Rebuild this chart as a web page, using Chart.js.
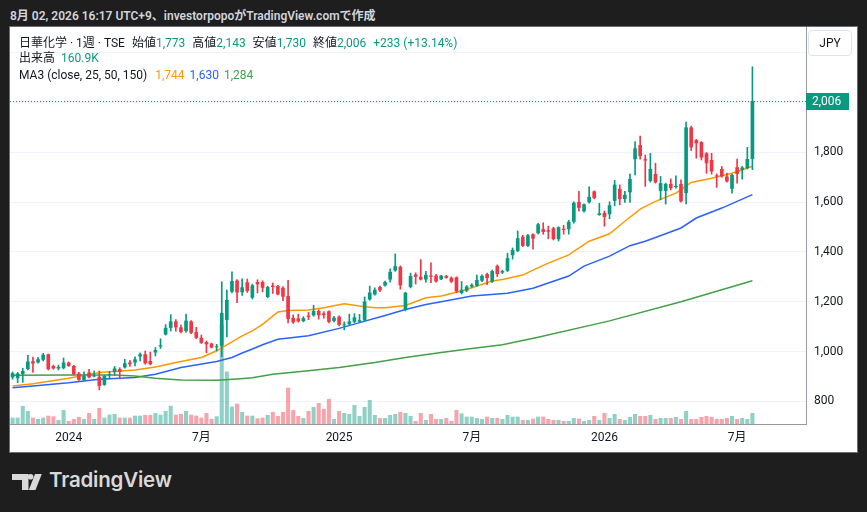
<!DOCTYPE html>
<html lang="ja">
<head>
<meta charset="utf-8">
<title>日華化学 · 1週 · TSE</title>
<script src="https://cdn.jsdelivr.net/npm/chart.js@4.4.1/dist/chart.umd.min.js"></script>
<style>
  html, body { margin: 0; padding: 0; }
  body {
    width: 867px; height: 512px; overflow: hidden; position: relative;
    background: #1e1e1e;
    font-family: Roboto, "Noto Sans CJK JP", sans-serif;
  }
  #title {
    position: absolute; left: 10px; top: 6px;
    color: #d1d4dc; font-size: 12px; font-weight: 600; white-space: nowrap;
  }
  #frame {
    position: absolute; left: 9px; top: 26px; width: 847px; height: 425px;
    border: 1px solid #6a6d78; background: #fff;
  }
  #chart { position: absolute; left: 0; top: 0; }
  .legend {
    position: absolute; left: 9px; font-size: 12px; line-height: 16px;
    color: #131722; white-space: nowrap;
  }
  .legend .k { margin-left: 4px; }
  .up { color: #089981; }
  #jpy {
    position: absolute; left: 798px; top: 3px; width: 44px; height: 26px;
    border: 1px solid #e0e3eb; border-radius: 4px; box-sizing: border-box;
    font-size: 12px; color: #131722; text-align: center; line-height: 24px;
  }
  #brand {
    position: absolute; left: 12px; top: 467px; height: 30px;
    color: #d9d9d9; white-space: nowrap;
  }
  #brand svg { position: absolute; left: 0; top: 7px; }
  #brand span {
    position: absolute; left: 37px; top: 0; font-family: Inter, Roboto, sans-serif;
    font-size: 20.5px; font-weight: 600; letter-spacing: -0.2px;
  }
</style>
</head>
<body>
<div id="title">8月 02, 2026 16:17 UTC+9、investorpopoがTradingView.comで作成</div>
<div id="frame">
  <canvas id="chart" width="847" height="425"></canvas>
  <div class="legend" style="top:8px">
    <span>日華化学 · 1週 · TSE</span>
    <span class="k">始値</span><span class="up" id="vOpen"></span>
    <span class="k">高値</span><span class="up" id="vHigh"></span>
    <span class="k">安値</span><span class="up" id="vLow"></span>
    <span class="k">終値</span><span class="up" id="vClose"></span>
    <span class="up" id="vChange" style="margin-left:4px"></span>
  </div>
  <div class="legend" style="top:23px">
    <span>出来高</span><span class="up" id="vVol" style="margin-left:6px"></span>
  </div>
  <div class="legend" style="top:40px">
    <span>MA3 (close, 25, 50, 150)</span>
    <span id="vMa25" style="color:#ff9800;margin-left:5px"></span>
    <span id="vMa50" style="color:#2962ff;margin-left:2px"></span>
    <span id="vMa150" style="color:#43a047;margin-left:2px"></span>
  </div>
  <div id="jpy">JPY</div>
</div>
<div id="brand">
  <svg width="30" height="16" viewBox="0 0 30 16">
    <rect x="0" y="0" width="16.5" height="6" fill="#d9d9d9"/>
    <rect x="10" y="6" width="6.5" height="10" fill="#d9d9d9"/>
    <circle cx="18.6" cy="2.8" r="2.8" fill="#d9d9d9"/>
    <polygon points="23,0 29.8,0 23.5,16 16.8,16" fill="#d9d9d9"/>
  </svg>
  <span>TradingView</span>
</div>

<script>
// weekly bars, first bar is the week of 2023-10-16; 10 empty weeks are kept on the right
const firstWeek = Date.UTC(2023, 9, 16);
const weekCount = 156;
const weeks = [];
for (let i = 0; i < weekCount; i++) {
  weeks.push(new Date(firstWeek + i * 7 * 864e5).toISOString().slice(0, 10));
}

const tickWeeks = ['2024-01-01', '2024-07-01', '2025-01-06', '2025-07-07', '2026-01-05', '2026-07-06'];
const tickTexts = ['2024', '7月', '2025', '7月', '2026', '7月'];
const priceTicks = [800, 1000, 1200, 1400, 1600, 1800, 2000, 2200];
const priceLabels = [800, 1000, 1200, 1400, 1600, 1800];

const open = [
  896, 893, 909, 930, 961, 956, 967, 989, 942, 932, 933,
  956, 942, 912, 886, 916, 900, 899, 866, 905, 918,
  929, 936, 956, 956, 980, 989, 962, 996, 1020, 1068,
  1095, 1121, 1097, 1082, 1121, 1078, 1055, 1038, 1032, 1017,
  1023, 1127, 1240, 1285,
  1238, 1278, 1216, 1279, 1279, 1219, 1265, 1263, 1256, 1223,
  1135, 1133, 1122, 1144, 1145, 1163, 1153, 1162, 1123, 1140,
  1105, 1110, 1119, 1120, 1125, 1209, 1229, 1259, 1265, 1289,
  1325, 1340, 1169, 1259, 1309, 1300, 1289, 1305, 1305, 1290,
  1303, 1296, 1298,
  1235, 1244, 1261, 1264, 1284, 1311, 1280, 1344, 1317, 1324,
  1387, 1404, 1461, 1424, 1471, 1475, 1491, 1487, 1495, 1451,
  1493, 1491, 1521, 1601, 1563, 1599, 1643, 1548, 1557, 1551,
  1605,
  1653, 1612, 1639, 1772, 1829, 1772, 1685, 1713, 1645, 1645,
  1673, 1660, 1673, 1636, 1900, 1849, 1841, 1796, 1769, 1707,
  1733, 1703, 1653, 1740, 1729, 1736, 1773
];
const high = [
  918, 916, 933, 985, 978, 977, 993, 990, 946, 946, 974,
  958, 945, 916, 918, 929, 922, 922, 905, 920, 940,
  935, 969, 965, 979, 995, 1002, 998, 1016, 1051, 1108,
  1148, 1128, 1106, 1150, 1124, 1097, 1066, 1042, 1034, 1029,
  1280, 1247, 1320, 1289,
  1292, 1291, 1271, 1288, 1284, 1262, 1275, 1266, 1261, 1286,
  1147, 1150, 1140, 1157, 1186, 1168, 1160, 1163, 1141, 1143,
  1119, 1150, 1152, 1149, 1219, 1263, 1256, 1263, 1283, 1332,
  1392, 1344, 1238, 1315, 1316, 1369, 1322, 1356, 1310, 1306,
  1306, 1300, 1300,
  1281, 1265, 1272, 1307, 1308, 1315, 1327, 1348, 1327, 1395,
  1416, 1484, 1467, 1471, 1473, 1515, 1517, 1504, 1499, 1501,
  1507, 1527, 1601, 1643, 1593, 1661, 1645, 1595, 1564, 1601,
  1687,
  1669, 1643, 1712, 1843, 1865, 1789, 1796, 1756, 1703, 1676,
  1693, 1705, 1689, 1921, 1905, 1852, 1843, 1799, 1796, 1713,
  1743, 1716, 1712, 1773, 1743, 1820, 2143
];
const low = [
  889, 875, 876, 926, 916, 953, 962, 926, 929, 926, 930,
  940, 906, 884, 883, 894, 898, 846, 864, 890, 905,
  890, 933, 940, 942, 962, 949, 946, 982, 1012, 1066,
  1082, 1082, 1075, 1078, 1072, 1051, 1032, 995, 1014, 1002,
  979, 1059, 1235, 1196,
  1225, 1237, 1211, 1235, 1240, 1216, 1233, 1227, 1204, 1115,
  1113, 1118, 1119, 1128, 1142, 1130, 1134, 1115, 1119, 1103,
  1087, 1107, 1116, 1117, 1122, 1206, 1226, 1240, 1262, 1278,
  1322, 1250, 1163, 1255, 1271, 1287, 1278, 1276, 1278, 1288,
  1294, 1277, 1236,
  1231, 1240, 1257, 1261, 1280, 1268, 1277, 1301, 1313, 1321,
  1371, 1401, 1421, 1421, 1411, 1472, 1471, 1453, 1448, 1444,
  1471, 1471, 1515, 1564, 1560, 1596, 1613, 1547, 1503, 1533,
  1585,
  1589, 1599, 1599, 1709, 1772, 1663, 1680, 1676, 1609, 1592,
  1649, 1656, 1600, 1593, 1807, 1776, 1769, 1716, 1712, 1659,
  1700, 1680, 1636, 1676, 1692, 1733, 1730
];
const close = [
  913, 912, 922, 960, 952, 969, 987, 929, 932, 938, 956,
  942, 909, 886, 902, 896, 904, 862, 902, 909, 932,
  918, 953, 949, 969, 989, 953, 949, 1006, 1025, 1095,
  1121, 1097, 1078, 1124, 1075, 1055, 1035, 1029, 1016, 1021,
  1155, 1207, 1283, 1237,
  1258, 1243, 1266, 1270, 1256, 1259, 1259, 1229, 1220, 1130,
  1117, 1121, 1134, 1139, 1163, 1146, 1146, 1119, 1136, 1107,
  1109, 1121, 1137, 1126, 1201, 1237, 1248, 1245, 1279, 1320,
  1343, 1266, 1236, 1303, 1300, 1289, 1308, 1300, 1281, 1305,
  1296, 1280, 1241,
  1248, 1261, 1268, 1287, 1304, 1295, 1323, 1311, 1323, 1375,
  1408, 1455, 1424, 1467, 1453, 1511, 1480, 1481, 1451, 1499,
  1488, 1521, 1597, 1577, 1591, 1621, 1616, 1555, 1540, 1587,
  1670,
  1612, 1629, 1693, 1816, 1785, 1767, 1733, 1679, 1676, 1673,
  1656, 1665, 1603, 1900, 1820, 1836, 1779, 1756, 1723, 1703,
  1703, 1683, 1709, 1713, 1739, 1773, 2006
];
// volume in thousands of shares
const volume = [
  93, 93, 264, 190, 93, 73, 93, 122, 112, 59, 205,
  44, 73, 102, 73, 161, 73, 234, 93, 137, 146,
  93, 93, 93, 122, 122, 132, 132, 161, 137, 190,
  264, 137, 146, 190, 137, 122, 93, 161, 73, 112,
  1449, 766, 254, 298,
  176, 122, 122, 83, 93, 132, 176, 117, 176, 532,
  205, 117, 88, 190, 249, 307, 220, 366, 73, 190,
  161, 146, 278, 117, 249, 351, 132, 88, 88, 132,
  146, 176, 161, 117, 44, 161, 59, 146, 73, 73,
  88, 44, 205,
  156, 107, 107, 88, 73, 107, 88, 88, 73, 132,
  107, 107, 59, 59, 78, 107, 107, 73, 59, 59,
  44, 44, 88, 78, 44, 59, 117, 59, 161, 88,
  146,
  73, 59, 102, 146, 117, 117, 132, 73, 88, 88,
  88, 102, 73, 190, 73, 73, 102, 117, 102, 73,
  73, 88, 117, 73, 88, 73, 160.9
];

// moving averages (week position -> value)
const ma25Week = [0, 4, 11, 17, 24, 28, 32, 37, 40, 43, 45, 47, 49, 52, 54, 58, 61, 65, 68, 71, 73,
  77, 81, 84, 88, 90, 94, 96, 100, 102, 105, 109, 113, 117, 120, 123, 126, 130, 133, 137, 141, 145];
const ma25 = [862, 871, 893, 916, 926, 938, 956, 976, 1003, 1039, 1063, 1083, 1109, 1159, 1165, 1167, 1176, 1192, 1183, 1176, 1176,
  1185, 1216, 1223, 1243, 1256, 1283, 1289, 1307, 1327, 1355, 1388, 1443, 1473, 1523, 1572, 1603, 1636, 1679, 1696, 1716, 1744];
const ma50Week = [0, 4, 11, 17, 24, 28, 33, 40, 43, 45, 47, 49, 52, 58, 64, 68, 73, 77, 81, 84, 90,
  97, 102, 109, 112, 117, 121, 124, 128, 131, 134, 139, 145];
const ma50 = [855, 862, 875, 889, 896, 909, 936, 960, 976, 994, 1010, 1027, 1049, 1063, 1093, 1116, 1145, 1169, 1189, 1200, 1223,
  1234, 1254, 1303, 1343, 1383, 1425, 1443, 1473, 1496, 1536, 1576, 1630];
const ma150Week = [0, 11, 20, 24, 28, 33, 40, 44, 47, 51, 58, 64, 71, 77, 84, 90, 96, 103, 117, 131, 145];
const ma150 = [905, 906, 906, 902, 893, 886, 885, 890, 895, 909, 923, 936, 956, 976, 996, 1012, 1027, 1057, 1123, 1200, 1284];

const UP = '#089981';
const DOWN = '#f23645';
const fmt = v => v.toLocaleString('en-US');
const last = close.length - 1;
const isUp = close.map((c, i) => c >= open[i]);
const candleColors = isUp.map(u => (u ? UP : DOWN));
const volumeColors = isUp.map(u => (u ? 'rgba(8,153,129,0.45)' : 'rgba(242,54,69,0.45)'));

// legend values
document.getElementById('vOpen').textContent = fmt(open[last]);
document.getElementById('vHigh').textContent = fmt(high[last]);
document.getElementById('vLow').textContent = fmt(low[last]);
document.getElementById('vClose').textContent = fmt(close[last]);
const change = close[last] - close[last - 1];
document.getElementById('vChange').textContent =
  (change >= 0 ? '+' : '') + fmt(change) + ' (+' + (change / close[last - 1] * 100).toFixed(2) + '%)';
document.getElementById('vVol').textContent = volume[last].toFixed(1) + 'K';
document.getElementById('vMa25').textContent = fmt(ma25[ma25.length - 1]);
document.getElementById('vMa50').textContent = fmt(ma50[ma50.length - 1]);
document.getElementById('vMa150').textContent = fmt(ma150[ma150.length - 1]);

function maLine(label, weekPos, values, color) {
  return {
    type: 'line',
    label: label,
    data: weekPos.map((w, i) => ({ x: weeks[w], y: values[i] })),
    borderColor: color,
    borderWidth: 1.5,
    pointRadius: 0,
    tension: 0,
    order: 5
  };
}

// dotted last-price line and price badge
const lastPricePlugin = {
  id: 'lastPrice',
  afterDatasetsDraw(chart) {
    const { ctx, chartArea, scales } = chart;
    const y = Math.round(scales.y.getPixelForValue(close[last])) + 0.5;
    ctx.save();
    ctx.strokeStyle = UP;
    ctx.lineWidth = 1;
    ctx.setLineDash([1, 2]);
    ctx.beginPath();
    ctx.moveTo(chartArea.left, y);
    ctx.lineTo(chartArea.right, y);
    ctx.stroke();
    ctx.setLineDash([]);
    ctx.fillStyle = UP;
    ctx.fillRect(chartArea.right, y - 8.5, 43, 17);
    ctx.fillStyle = '#ffffff';
    ctx.font = '12px Roboto, sans-serif';
    ctx.textBaseline = 'middle';
    ctx.fillText(fmt(close[last]), chartArea.right + 6, y + 0.5);
    ctx.restore();
  }
};

new Chart(document.getElementById('chart'), {
  type: 'bar',
  data: {
    labels: weeks,
    datasets: [
      {
        type: 'bar',
        label: '出来高',
        data: volume,
        yAxisID: 'vol',
        backgroundColor: volumeColors,
        barPercentage: 0.8,
        categoryPercentage: 1,
        grouped: false,
        order: 10
      },
      maLine('MA150', ma150Week, ma150, '#43a047'),
      maLine('MA50', ma50Week, ma50, '#2962ff'),
      maLine('MA25', ma25Week, ma25, '#ff9800'),
      {
        type: 'bar',
        label: 'wick',
        data: low.map((l, i) => [l, high[i]]),
        backgroundColor: candleColors,
        barThickness: 1,
        grouped: false,
        order: 2
      },
      {
        type: 'bar',
        label: 'body',
        data: open.map((o, i) => [Math.min(o, close[i]), Math.max(o, close[i])]),
        backgroundColor: candleColors,
        barPercentage: 0.72,
        categoryPercentage: 1,
        grouped: false,
        order: 1
      }
    ]
  },
  options: {
    responsive: false,
    animation: false,
    events: [],
    layout: { padding: 0 },
    plugins: {
      legend: { display: false },
      tooltip: { enabled: false }
    },
    scales: {
      x: {
        type: 'category',
        offset: true,
        grid: {
          offset: false,
          drawTicks: false,
          color: c => (tickWeeks.includes(weeks[c.index]) ? '#f0f3fa' : 'rgba(0,0,0,0)')
        },
        border: { color: '#9598a1' },
        ticks: {
          autoSkip: false,
          maxRotation: 0,
          padding: 7,
          color: '#131722',
          font: { size: 12, family: 'Roboto, "Noto Sans CJK JP", sans-serif' },
          callback: (v, i) => {
            const k = tickWeeks.indexOf(weeks[i]);
            return k < 0 ? null : tickTexts[k];
          }
        },
        afterFit: s => { s.height = 28; s.paddingLeft = 0; s.paddingRight = 0; }
      },
      y: {
        position: 'right',
        min: 709,
        max: 2303,
        afterBuildTicks: s => { s.ticks = priceTicks.map(v => ({ value: v })); },
        grid: { color: '#f0f3fa', drawTicks: false },
        border: { color: '#9598a1' },
        ticks: {
          padding: 8,
          color: '#131722',
          font: { size: 12, family: 'Roboto, sans-serif' },
          callback: v => (priceLabels.includes(v) ? fmt(v) : '')
        },
        afterFit: s => { s.width = 51; s.paddingTop = 0; s.paddingBottom = 0; }
      },
      vol: {
        display: false,
        min: 0,
        max: 5800
      }
    }
  },
  plugins: [lastPricePlugin]
});
</script>
</body>
</html>
